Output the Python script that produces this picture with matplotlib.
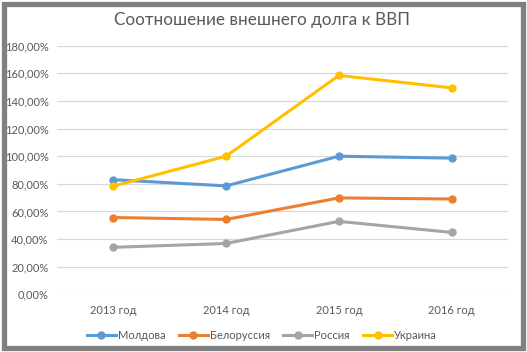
import matplotlib
matplotlib.use("Agg")
import matplotlib.pyplot as plt
from matplotlib.patches import Rectangle
from matplotlib.ticker import FuncFormatter

plt.rcParams['font.family'] = ['Lato', 'DejaVu Sans']

years = ["2013 год", "2014 год", "2015 год", "2016 год"]
series_names = ["Молдова", "Белоруссия", "Россия", "Украина"]
moldova = [83.0, 78.5, 100.0, 98.6]
belarus = [55.6, 54.2, 69.8, 69.0]
russia = [34.0, 36.8, 52.8, 44.8]
ukraine = [78.3, 100.0, 158.5, 149.5]
colors = ["#5b9bd5", "#ed7d31", "#a5a5a5", "#ffc000"]

fig = plt.figure(figsize=(5.27, 3.52), dpi=100)
ax = fig.add_axes([0.108, 0.164, 0.856, 0.706])

x = list(range(len(years)))
for vals, name, c in zip([moldova, belarus, russia, ukraine], series_names, colors):
    ax.plot(x, vals, color=c, lw=2.2, marker='o', ms=5, label=name, zorder=3)

ax.set_xlim(-0.5, 3.5)
ax.set_ylim(0, 180)
ax.set_yticks(range(0, 181, 20))
ax.yaxis.set_major_formatter(FuncFormatter(lambda v, p: f"{v:.2f}%".replace('.', ',')))
ax.set_xticks(x)
ax.set_xticklabels(years)
ax.grid(axis='y', color='#d9d9d9', lw=0.9, zorder=0)
for s in ax.spines.values():
    s.set_visible(False)
ax.tick_params(length=0, labelsize=8, colors='#595959', pad=6)
ax.tick_params(axis='x', pad=8)

fig.text(0.497, 0.942, "Соотношение внешнего долга к ВВП", ha='center', va='center',
         fontsize=12.3, color='#595959')

leg = fig.legend(loc='center', bbox_to_anchor=(0.497, 0.048), ncol=4, frameon=False,
                 fontsize=8, handlelength=2.6, columnspacing=1.2, handletextpad=0.2)
for t in leg.get_texts():
    t.set_color('#595959')

# gray frame
fig.patches.append(Rectangle((3.5 / 527, 1 - 348 / 352), (523 - 3.5) / 527, (348 - 4) / 352,
                             transform=fig.transFigure, fill=False, ec='#808080', lw=3.8))

fig.savefig("out.png", dpi=100)
